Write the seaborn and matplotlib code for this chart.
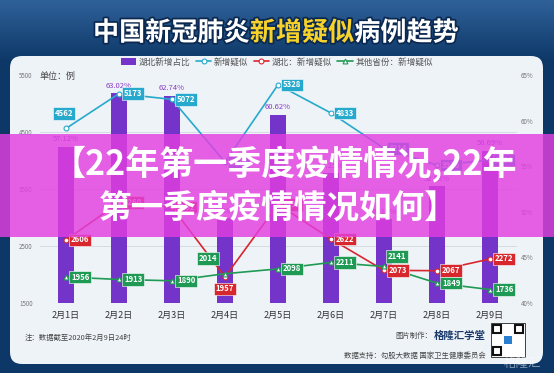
import matplotlib
matplotlib.use('Agg')
import matplotlib.pyplot as plt
import matplotlib.patheffects as pe
from matplotlib.colors import LinearSegmentedColormap
from matplotlib.patches import FancyBboxPatch, Rectangle
import numpy as np
import seaborn as sns

# data
dates = ['2月1日', '2月2日', '2月3日', '2月4日', '2月5日', '2月6日', '2月7日', '2月8日', '2月9日']
hubei_share = [57.12, 63.02, 62.74, 49.28, 60.62, 54.25, 49.19, 52.78, 56.69]
new_suspected = [4562, 5173, 5072, 3971, 5328, 4833, 4214, 3916, 4008]
hubei_suspected = [2606, 3260, 3182, 1957, 3230, 2622, 2073, 2067, 2272]
other_suspected = [1956, 1913, 1890, 2014, 2098, 2211, 2141, 1849, 1736]
count_ticks = [1500, 2500, 3500, 4500, 5500]
share_ticks = [40, 45, 50, 55, 60, 65]
legend_labels = ['湖北新增占比', '新增疑似', '湖北：新增疑似', '其他省份：新增疑似']

W, H = 554, 373
PURPLE, CYAN, RED, GREEN = '#7433c9', '#26a9cc', '#d8262d', '#1f9a55'

sns.set_style('white')
plt.rcParams['font.family'] = ['Noto Sans CJK SC', 'DejaVu Sans']

fig = plt.figure(figsize=(W / 100, H / 100), dpi=100)
fig.patch.set_facecolor('#0d3767')

# background layer, pixel coordinates
bg = fig.add_axes([0, 0, 1, 1], zorder=-1)
sky = LinearSegmentedColormap.from_list('sky', ['#2f6199', '#0d3767'])
bg.imshow(np.linspace(0, 1, 64).reshape(-1, 1), extent=(0, W, 62, 0), cmap=sky, aspect='auto')
bg.add_patch(FancyBboxPatch((10, 56), 533, 308, boxstyle='round,pad=0,rounding_size=12',
                            fc='#eef3f8', ec='none'))
bg.set_xlim(0, W)
bg.set_ylim(H, 0)
bg.axis('off')

# title in three colours
shadow = [pe.withStroke(linewidth=2.5, foreground='#0a2850')]
t1 = bg.text(93, 33, '中国新冠肺炎', fontsize=18.8, fontweight='bold', color='white',
             ha='left', va='center', path_effects=shadow)
t2 = bg.annotate('新增疑似', xy=(1, 0.5), xycoords=t1, fontsize=18.8, fontweight='bold',
                 color='#f6d22a', ha='left', va='center', path_effects=shadow)
bg.annotate('病例趋势', xy=(1, 0.5), xycoords=t2, fontsize=18.8, fontweight='bold',
            color='white', ha='left', va='center', path_effects=shadow)

bg.text(40, 76, '单位：例', fontsize=6.5, color='#444444', ha='left', va='center')

# footer
bg.text(25, 338, '注：数据截至2020年2月9日24时', fontsize=5.3, color='#444444', va='center')
logo = bg.text(486, 336, '格隆汇学堂', fontsize=7.5, fontweight='bold', color='#1b3a6b',
               ha='right', va='center')
bg.annotate('图片制作：', xy=(0, 0.5), xycoords=logo, xytext=(-1, 0), textcoords='offset points',
            fontsize=5.3, color='#444444', ha='right', va='center')
bg.text(486, 356, '数据支持：勾股大数据 国家卫生健康委员会', fontsize=5.3, color='#444444',
        ha='right', va='center')
bg.add_patch(Rectangle((491, 323), 34, 34, fc='white', ec='#222222', lw=0.6))
for qx, qy in [(493, 325), (515, 325), (493, 347)]:
    bg.add_patch(Rectangle((qx, qy), 8, 8, fc='none', ec='#111111', lw=1.5))
bg.add_patch(Rectangle((504, 336), 8, 8, fc='#2a7fd0', ec='none'))
bg.text(522, 363, '格隆汇', fontsize=9, color='white', alpha=0.5, ha='center', va='center')

# main chart
ax_bar = fig.add_axes([39.5 / W, 70 / H, 477 / W, 228 / H])
sns.barplot(x=dates, y=hubei_share, color=PURPLE, saturation=1, width=0.3,
            linewidth=0, ax=ax_bar)
ax_bar.bar_label(ax_bar.containers[0], labels=[f'{v:.2f}%' for v in hubei_share],
                 padding=2.5, fontsize=5.5, color='#8a3cc8')
ax_bar.set_ylim(share_ticks[0], share_ticks[-1])

ax_line = ax_bar.twinx()
ax_bar.yaxis.tick_right()
ax_line.yaxis.tick_left()

series = [(new_suspected, CYAN, 'o'), (hubei_suspected, RED, 'o'), (other_suspected, GREEN, '^')]
for values, color, mk in series:
    sns.lineplot(x=dates, y=values, ax=ax_line, color=color, lw=1.2, marker=mk,
                 markersize=3.5, markerfacecolor='white', markeredgecolor=color,
                 markeredgewidth=0.8)
ax_line.set_ylim(count_ticks[0], count_ticks[-1])

# grid at the count ticks, drawn behind the bars
lo, hi = share_ticks[0], share_ticks[-1]
ax_bar.set_yticks([lo + (t - count_ticks[0]) / (count_ticks[-1] - count_ticks[0]) * (hi - lo)
                   for t in count_ticks], minor=True)
ax_bar.grid(which='minor', axis='y', color='#d6dbe3', lw=0.7)
ax_bar.grid(which='major', visible=False)
ax_bar.set_axisbelow(True)
ax_line.grid(False)

ax_bar.set_yticks(share_ticks)
ax_bar.set_yticklabels([f'{t}%' for t in share_ticks])
ax_line.set_yticks(count_ticks)
ax_bar.tick_params(axis='y', which='both', length=0, labelsize=4.5, colors='#777777', pad=3)
ax_line.tick_params(axis='y', length=0, labelsize=4.5, colors='#777777', pad=5)
ax_bar.tick_params(axis='x', length=0, labelsize=6.5, colors='#333333', pad=6)
ax_bar.set_xlim(-0.5, len(dates) - 0.5)
for a in (ax_bar, ax_line):
    a.set_facecolor('none')
    a.set_xlabel('')
    a.set_ylabel('')
    for s in a.spines.values():
        s.set_visible(False)

# value tags
offsets = {
    CYAN: {0: (-2, 15, 'center')},
    RED: {3: (0, -12, 'center')},
    GREEN: {3: (-17, 15, 'center'), 6: (13, 10, 'center')},
}
for values, color, mk in series:
    for i, v in enumerate(values):
        dx, dy, ha = offsets[color].get(i, (5, 0, 'left'))
        ax_line.annotate(str(v), xy=(i, v), xytext=(dx, dy), textcoords='offset pixels',
                         ha=ha, va='center', fontsize=5.6, fontweight='bold', color='white',
                         bbox=dict(boxstyle='square,pad=0.22', fc=color, ec='white', lw=0.4),
                         zorder=5)

handles = [ax_bar.patches[0]] + ax_line.get_lines()[:3]
fig.legend(handles, legend_labels, loc='center', bbox_to_anchor=(277 / W, 1 - 62 / H),
           ncol=4, frameon=False, fontsize=6.2, handlelength=1.8, handletextpad=0.3,
           columnspacing=0.6, labelcolor='#555555')

# pink headline banner over everything
ov = fig.add_axes([0, 0, 1, 1], zorder=10)
ov.set_xlim(0, W)
ov.set_ylim(H, 0)
ov.axis('off')
ov.add_patch(Rectangle((0, 134), W, 103, fc='#e23fe0', alpha=0.82, ec='none'))
ov.text(284, 164, '【22年第一季度疫情情况,22年', fontsize=24.5, fontweight='bold',
        color='white', ha='center', va='center')
ov.text(278, 208, '第一季度疫情情况如何】', fontsize=23.5, fontweight='bold',
        color='white', ha='center', va='center')

fig.savefig('out.png', dpi=100, facecolor=fig.get_facecolor())
